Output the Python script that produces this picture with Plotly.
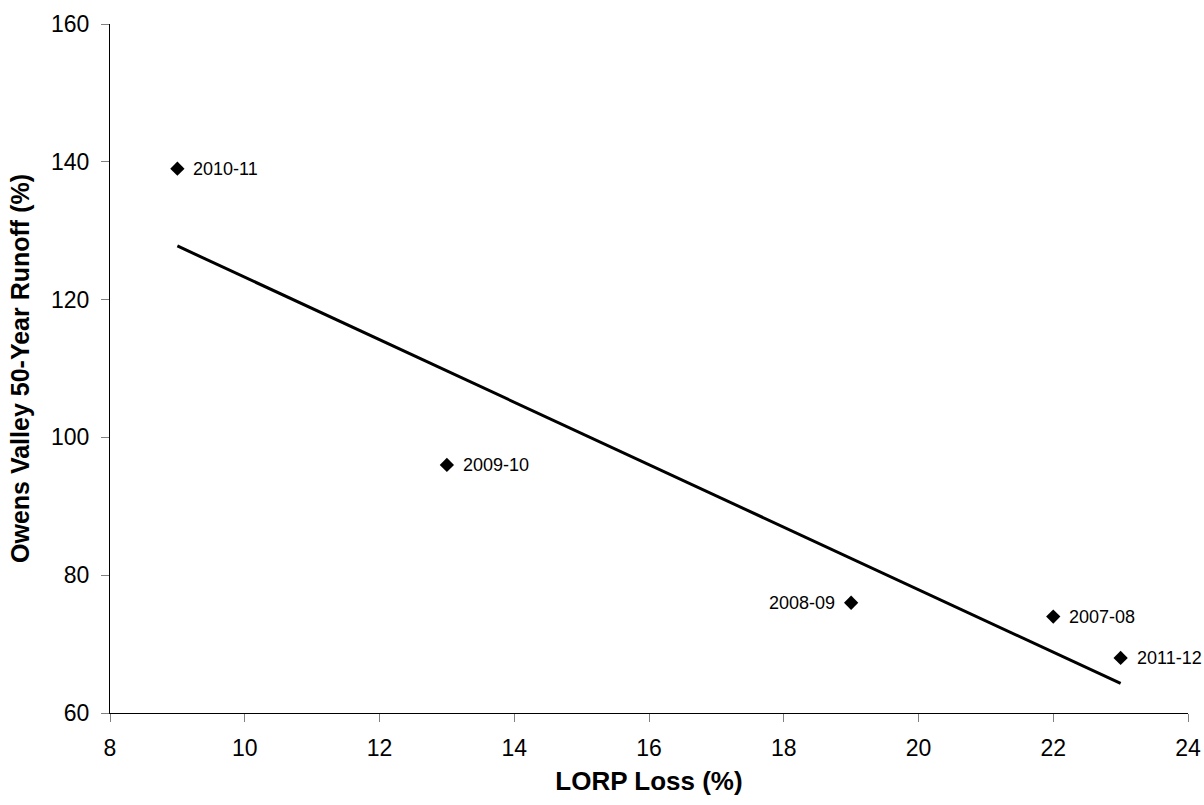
import numpy as np
import plotly.graph_objects as go

loss = [9, 13, 19, 22, 23]
runoff = [139, 96, 76, 74, 68]
years = ["2010-11", "2009-10", "2008-09", "2007-08", "2011-12"]
label_side = ["right", "right", "left", "right", "right"]

slope, intercept = np.polyfit(loss, runoff, 1)
trend_x = [min(loss), max(loss)]
trend_y = [slope * v + intercept for v in trend_x]

FONT = "Liberation Sans, Arial, sans-serif"

fig = go.Figure()
fig.add_trace(go.Scatter(x=trend_x, y=trend_y, mode="lines",
                         line=dict(color="black", width=3), hoverinfo="skip"))
fig.add_trace(go.Scatter(x=loss, y=runoff, mode="markers",
                         marker=dict(symbol="diamond", size=11, color="black")))

for xv, yv, t, side in zip(loss, runoff, years, label_side):
    fig.add_annotation(x=xv, y=yv, text=t, showarrow=False,
                       xanchor="left" if side == "right" else "right",
                       xshift=14 if side == "right" else -14,
                       font=dict(family=FONT, size=18, color="black"))

fig.update_layout(
    width=1204, height=805,
    margin=dict(l=110, r=16, t=24, b=92),
    paper_bgcolor="white", plot_bgcolor="white",
    showlegend=False,
    font=dict(family=FONT, color="black"),
)
fig.update_xaxes(range=[8, 24], dtick=2, tick0=8, showgrid=False, zeroline=False,
                 showline=True, linecolor="black", linewidth=1, automargin=False,
                 ticks="outside", ticklen=8, tickcolor="#808080", tickwidth=1,
                 tickfont=dict(family=FONT, size=23, color="black"),
                 ticklabelstandoff=6,
                 title=dict(text="<b>LORP Loss (%)</b>", standoff=12,
                            font=dict(family=FONT, size=26, color="black")))
fig.update_yaxes(range=[60, 160], dtick=20, tick0=60, showgrid=False, zeroline=False,
                 showline=True, linecolor="black", linewidth=1, automargin=False,
                 ticks="outside", ticklen=8, tickcolor="#808080", tickwidth=1,
                 tickfont=dict(family=FONT, size=23, color="black"),
                 ticklabelstandoff=7,
                 title=dict(text="<b>Owens Valley 50-Year Runoff (%)</b>", standoff=14,
                            font=dict(family=FONT, size=25, color="black")))

fig.write_html("out.html", config={"displayModeBar": False},
               post_script="document.body.style.margin='0';document.body.style.padding='0';")
